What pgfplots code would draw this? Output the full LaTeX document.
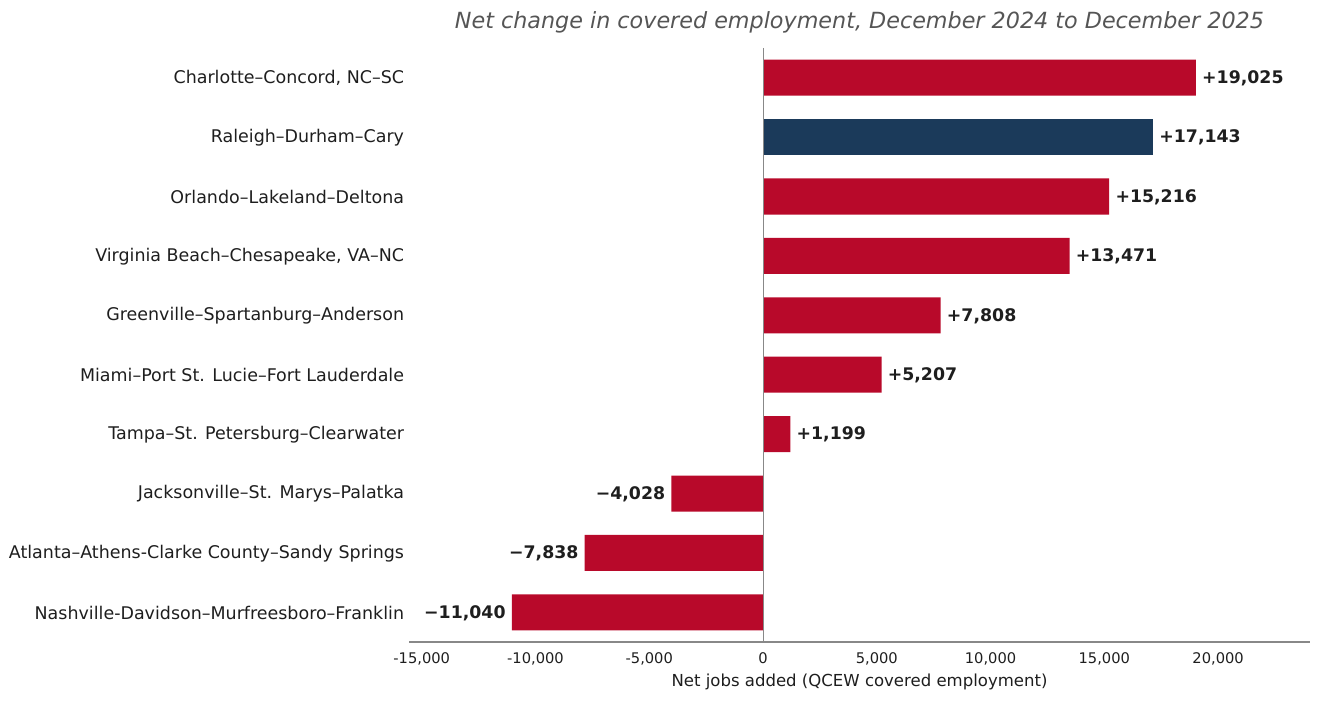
\documentclass[border=0pt]{standalone}
\usepackage{pgfplots}
\pgfplotsset{compat=1.18}
\usepackage{fontspec}
\setmainfont{DejaVu Sans}
\definecolor{barred}{HTML}{B8092A}
\definecolor{barnavy}{HTML}{1B3A5A}
\definecolor{txt}{HTML}{1E1E1E}
\definecolor{ttl}{HTML}{555555}
\definecolor{spine}{HTML}{888888}
\begin{document}
\begin{tikzpicture}
\useasboundingbox (0,0) rectangle (990pt,525pt);
\begin{axis}[
  at={(306.75pt,43.5pt)}, anchor=south west,
  scale only axis, width=675.75pt, height=445.5pt,
  xbar, bar width=27pt, bar shift=0pt,
  xmin=-15560, xmax=24040, ymin=-0.5, ymax=9.5,
  scaled x ticks=false,
  axis x line*=bottom, axis y line*=left,
  x axis line style={spine, line width=0.8pt},
  y axis line style={draw=none},
  xtick={-15000,-10000,-5000,0,5000,10000,15000,20000},
  xticklabels={-15{,}000,-10{,}000,-5{,}000,0,5{,}000,10{,}000,15{,}000,20{,}000},
  xtick style={draw=none}, ytick style={draw=none},
  ytick={0,...,9},
  yticklabels={Nashville-Davidson–Murfreesboro–Franklin, Atlanta–Athens-Clarke County–Sandy Springs, Jacksonville–St. Marys–Palatka, Tampa–St. Petersburg–Clearwater, Miami–Port St. Lucie–Fort Lauderdale, Greenville–Spartanburg–Anderson, Virginia Beach–Chesapeake{,} VA–NC, Orlando–Lakeland–Deltona, Raleigh–Durham–Cary, Charlotte–Concord{,} NC–SC},
  yticklabel style={font=\fontsize{13.1pt}{15pt}\selectfont, text=txt, anchor=east, inner sep=0pt, xshift=0.75pt, yshift=-0.5pt},
  xticklabel style={font=\fontsize{11pt}{13pt}\selectfont, text=txt, anchor=north, inner sep=0pt, yshift=-7.5pt},
  xlabel={Net jobs added (QCEW covered employment)},
  xlabel style={font=\fontsize{12.4pt}{14pt}\selectfont, text=txt, at={(0.5,0)}, anchor=center, yshift=-30pt},
  title={\itshape Net change in covered employment, December 2024 to December 2025},
  title style={font=\fontsize{16.7pt}{19pt}\selectfont, text=ttl, at={(0.5,1)}, anchor=center, yshift=13.5pt},
  nodes near coords, point meta=explicit symbolic,
  every node near coord/.append style={font=\bfseries\fontsize{13pt}{15pt}\selectfont, text=txt, inner sep=0pt, yshift=-0.5pt},
  clip=false,
]
\addplot[fill=barred, draw=none, nodes near coords style={anchor=west, xshift=4.5pt}] coordinates {
  (19025,9) [+19{,}025]
  (15216,7) [+15{,}216]
  (13471,6) [+13{,}471]
  (7808,5) [+7{,}808]
  (5207,4) [+5{,}207]
  (1199,3) [+1{,}199]
};
\addplot[fill=barnavy, draw=none, nodes near coords style={anchor=west, xshift=4.5pt}] coordinates {
  (17143,8) [+17{,}143]
};
\addplot[fill=barred, draw=none, nodes near coords style={anchor=east, xshift=-4.5pt}] coordinates {
  (-4028,2) [−4{,}028]
  (-7838,1) [−7{,}838]
  (-11040,0) [−11{,}040]
};
\draw[spine, line width=0.8pt] ({axis cs:0,0}|-{rel axis cs:0,1}) -- ({axis cs:0,0}|-{rel axis cs:0,0});
\end{axis}
\end{tikzpicture}
\end{document}
